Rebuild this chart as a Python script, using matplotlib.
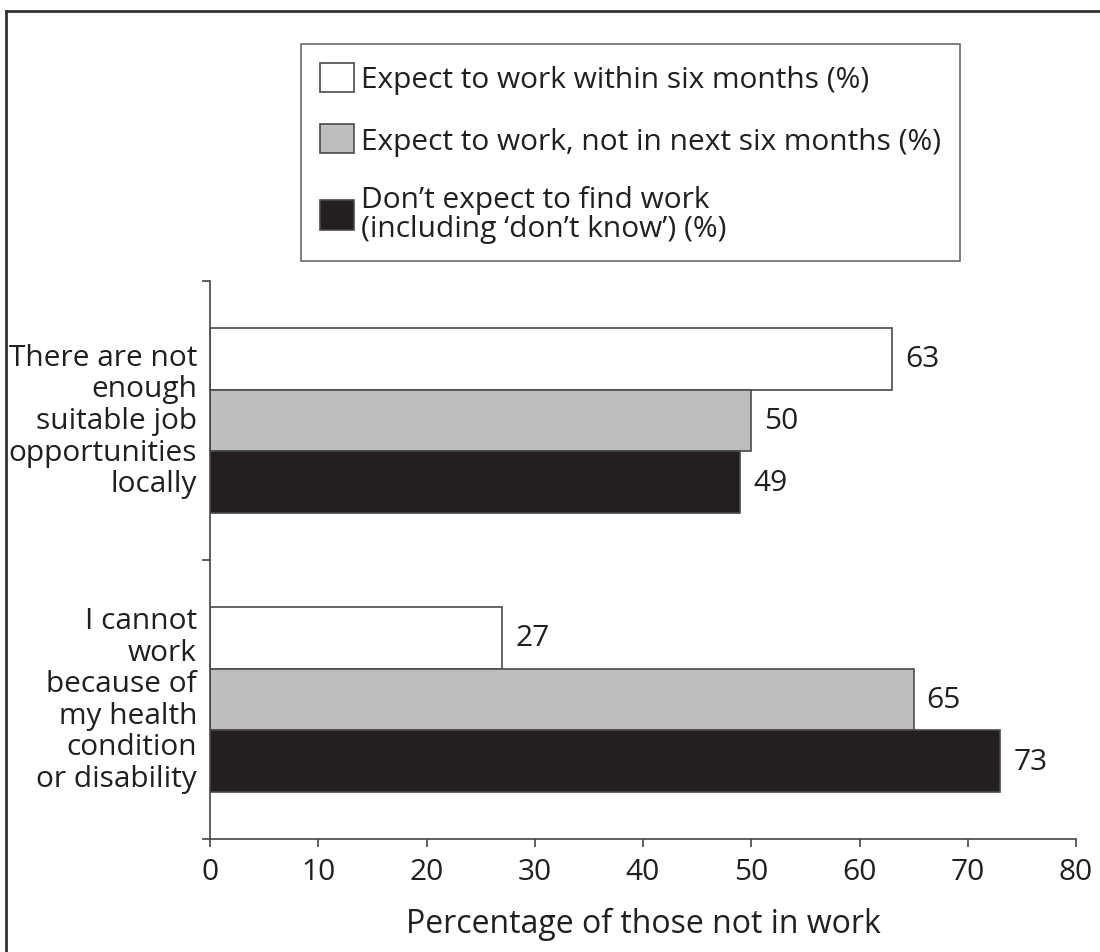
import matplotlib
matplotlib.use("Agg")
import matplotlib.pyplot as plt
import numpy as np
from matplotlib.patches import Patch
from matplotlib.lines import Line2D

plt.rcParams["font.family"] = ["Open Sans", "DejaVu Sans"]

categories = ["There are not\nenough\nsuitable job\nopportunities\nlocally",
              "I cannot\nwork\nbecause of\nmy health\ncondition\nor disability"]
series = ["Expect to work within six months (%)",
          "Expect to work, not in next six months (%)",
          "Don\u2019t expect to find work\n(including \u2018don\u2019t know\u2019) (%)"]
within_six = [63, 27]
not_next_six = [50, 65]
dont_expect = [49, 73]
xticks = [0, 10, 20, 30, 40, 50, 60, 70, 80]

colors = ["#ffffff", "#bcbec0", "#231f20"]
edge = "#4a4a4a"
fs = 21.5

fig = plt.figure(figsize=(11, 9.53), dpi=100)
ax = fig.add_axes([210/1100, 1-840/953, (1076-210)/1100, (840-282)/953])

# categories top to bottom, bars within a category top to bottom
centers = np.array([1.5, 0.5])
h = 0.222
vals = [within_six, not_next_six, dont_expect]
for i, (v, c) in enumerate(zip(vals, colors)):
    y = centers + h - i*h
    ax.barh(y, v, height=h, color=c, edgecolor=edge, linewidth=1.2)
    for yy, vv in zip(y, v):
        ax.text(vv + 1.2, yy, str(vv), va="center", ha="left", fontsize=fs, color="#231f20")

ax.set_xlim(0, 80)
ax.set_ylim(0, 2)
ax.set_xticks(xticks)
ax.set_yticks([0, 1, 2])
ax.set_yticklabels([])
ax.tick_params(axis="x", length=6, width=1.2, color="#444444", labelsize=fs, labelcolor="#231f20", pad=7)
ax.tick_params(axis="y", length=6, width=1.2, color="#444444")
for s in ["top", "right"]:
    ax.spines[s].set_visible(False)
for s in ["left", "bottom"]:
    ax.spines[s].set_linewidth(1.2)
    ax.spines[s].set_color("#444444")

for cy, lab in zip(centers, categories):
    ax.text(-1.2, cy, lab, ha="right", va="center", fontsize=fs, color="#231f20",
            linespacing=1.12, transform=ax.transData)

ax.set_xlabel("Percentage of those not in work", fontsize=23, color="#231f20", labelpad=15)

handles = [Patch(facecolor=c, edgecolor=edge, linewidth=1.2) for c in colors]
leg = fig.legend(handles, series, loc="upper left", bbox_to_anchor=(301/1100, 1-45/953),
                 fontsize=fs, frameon=True, fancybox=False, handlelength=1.15, handleheight=1.15,
                 handletextpad=0.25, labelspacing=0.98, borderpad=0.62, borderaxespad=0)
leg.get_frame().set_edgecolor("#444444")
leg.get_frame().set_linewidth(1.2)
for t in leg.get_texts():
    t.set_color("#231f20")
    t.set_linespacing(1.0)

# frame lines along top and left of the figure
fig.add_artist(Line2D([6/1100, 1], [1-12/953, 1-12/953], color="#333333", linewidth=2))
fig.add_artist(Line2D([6/1100, 6/1100], [0, 1-12/953], color="#333333", linewidth=2))

fig.savefig("out.png", dpi=100)
